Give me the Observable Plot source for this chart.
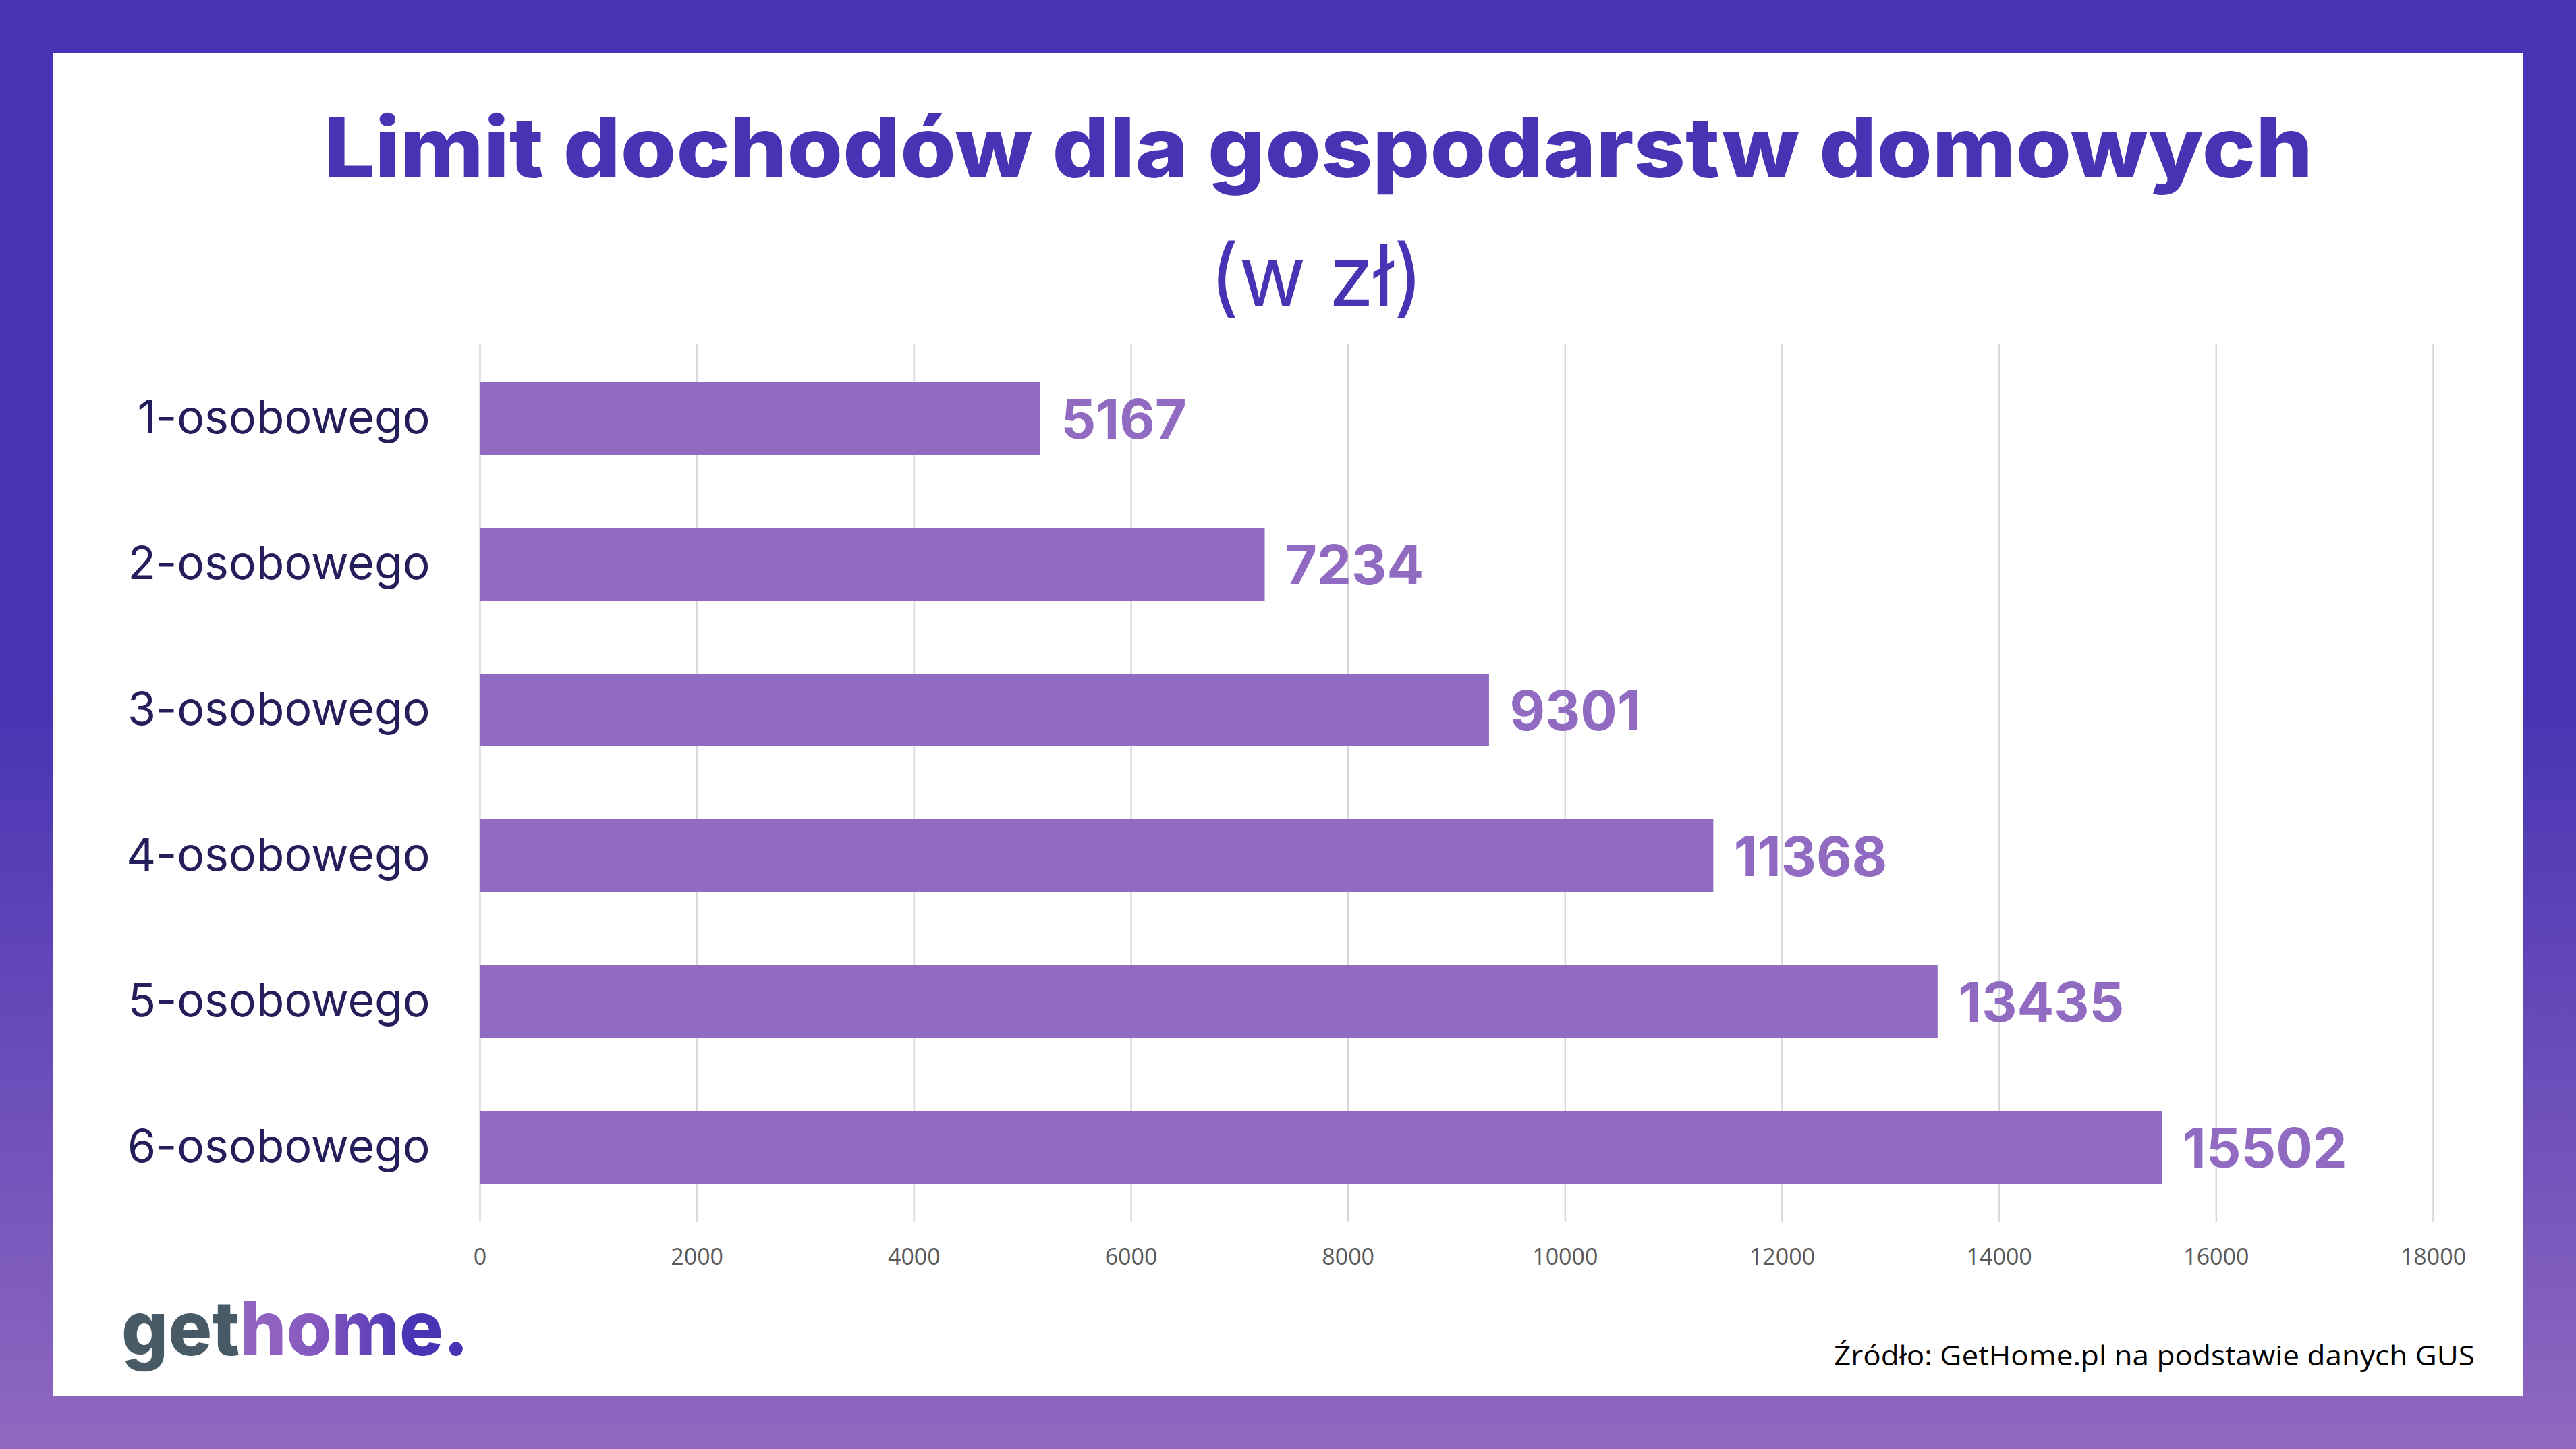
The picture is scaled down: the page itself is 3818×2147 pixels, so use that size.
<!DOCTYPE html>
<html>
<head>
<meta charset="utf-8">
<script src="https://cdn.jsdelivr.net/npm/d3@7"></script>
<script src="https://cdn.jsdelivr.net/npm/@observablehq/plot@0.6"></script>
<style>
  html, body { margin: 0; padding: 0; }
  #page { position: relative; width: 3818px; height: 2147px; overflow: hidden;
          background: linear-gradient(to bottom, #4733B3 0%, #4733B3 48%, #8F68C0 100%); }
  #panel { position: absolute; left: 78px; top: 78px; width: 3662px; height: 1991px; background: #ffffff; }
  #deco { position: absolute; left: 0; top: 0; }
  #chart { position: absolute; left: 0; top: 480px; }
  #chart svg { background: transparent; overflow: visible; }
</style>
</head>
<body>
<div id="page">
  <div id="panel"></div>
  <svg id="deco" width="3818" height="2147" xmlns="http://www.w3.org/2000/svg">
    <defs>
      <linearGradient id="logoGrad" gradientUnits="userSpaceOnUse" x1="390" y1="0" x2="610" y2="0">
        <stop offset="0" stop-color="#9264C1"/>
        <stop offset="0.35" stop-color="#8558BF"/>
        <stop offset="1" stop-color="#4733B3"/>
      </linearGradient>
    </defs>
    <text id="title" x="1954" y="263" text-anchor="middle" font-family="Inter" font-weight="800" font-size="124" fill="#4733B3">Limit dochodów dla gospodarstw domowych</text>
    <text id="subtitle" x="1951" y="454" text-anchor="middle" font-family="Inter" font-weight="400" font-size="126" fill="#4733B3">(w zł)</text>
    <text id="logo" x="180" y="2008" font-family="Inter" font-weight="800" font-size="112"><tspan fill="#475A65">get</tspan><tspan fill="url(#logoGrad)">home.</tspan></text>
    <text id="source" x="3668" y="2023" text-anchor="end" font-family="Open Sans" font-weight="400" font-size="40" fill="#000000">Źródło: GetHome.pl na podstawie danych GUS</text>
  </svg>
  <div id="chart"></div>
</div>
<script>
// ---- data ----
const categories = ["1-osobowego", "2-osobowego", "3-osobowego", "4-osobowego", "5-osobowego", "6-osobowego"];
const values = [5167, 7234, 9301, 11368, 13435, 15502];
const xTicks = [0, 2000, 4000, 6000, 8000, 10000, 12000, 14000, 16000, 18000];

const data = categories.map((c, i) => ({category: c, value: values[i]}));

const chart = Plot.plot({
  width: 3818,
  height: 1430,
  marginLeft: 711,
  marginRight: 212,
  marginTop: 30,
  marginBottom: 100,
  style: {background: "transparent", fontFamily: "Inter", overflow: "visible"},
  x: {domain: [0, 18000]},
  y: {domain: categories, paddingInner: 0.5, paddingOuter: 0.25},
  marks: [
    Plot.gridX(xTicks, {stroke: "#D9D9D9", strokeOpacity: 1, strokeWidth: 2.5}),
    Plot.axisX(xTicks, {tickSize: 0, tickPadding: 39, fontSize: 34, fontFamily: "Open Sans", fill: "#595959", tickFormat: d => String(d), label: null}),
    Plot.axisY({tickSize: 0, tickPadding: 74, fontSize: 68, fontFamily: "Inter", fill: "#241F5B", label: null}),
    Plot.barX(data, {x: "value", y: "category", fill: "#916BC1"}),
    Plot.text(data, {x: "value", y: "category", text: d => String(d.value), dx: 30, dy: 4, textAnchor: "start",
                     fontSize: 81, fontWeight: 700, fontFamily: "Inter", fill: "#916BC1"})
  ]
});
document.getElementById("chart").appendChild(chart);

// fit decorative texts to measured widths of the reference
function fit(id, target) {
  const el = document.getElementById(id);
  const w = el.getComputedTextLength();
  if (Math.abs(w - target) > 2) {
    el.setAttribute("textLength", target);
    el.setAttribute("lengthAdjust", "spacingAndGlyphs");
  }
}
fit("title", 2948);
fit("subtitle", 317);
fit("logo", 515);
fit("source", 950);
</script>
</body>
</html>
